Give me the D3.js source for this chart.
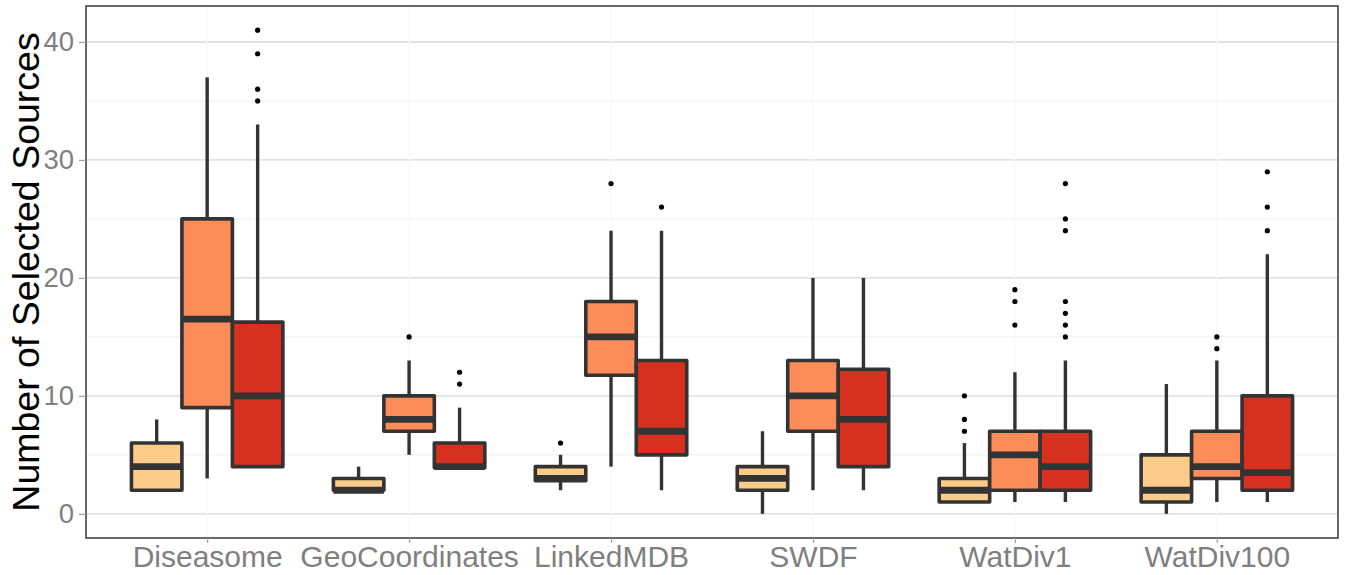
<!DOCTYPE html>
<html><head><meta charset="utf-8">
<script src="https://cdn.jsdelivr.net/npm/d3@7"></script>
<style>body{margin:0;background:#fff}svg{display:block}</style>
</head><body><div id="chart"></div>
<script>
// ---- data ----
const categories = ["Diseasome","GeoCoordinates","LinkedMDB","SWDF","WatDiv1","WatDiv100"];
const series = ["Series 1","Series 2","Series 3"];
const seriesColors = ["#FDCC8A","#FC8D59","#D7301F"];
// rows = categories, columns = series
const whiskerLow  = [[2,3,4],[2,5,4],[2,4,2],[0,2,2],[1,1,1],[0,1,1]];
const q1Values    = [[2,9,4],[2,7,3.9],[2.8,11.75,5],[2,7,4],[1,2,2],[1,3,2]];
const medians     = [[4,16.5,10],[2,8,4],[3,15,7],[3,10,8],[2,5,4],[2,4,3.5]];
const q3Values    = [[6,25,16.25],[3,10,6],[4,18,13],[4,13,12.25],[3,7,7],[5,7,10]];
const whiskerHigh = [[8,37,33],[4,13,9],[5,24,24],[7,20,20],[6,12,13],[11,13,22]];
const outliers    = [
  [[],[],[35,36,39,41]],
  [[],[15],[11,12]],
  [[6],[28],[26]],
  [[],[],[]],
  [[7,8,10],[16,18,19],[15,16,17,18,24,25,28]],
  [[],[14,15],[24,26,29]]
];
const yTicks = [0,10,20,30,40];
const yMinor = [5,15,25,35];
const yTitle = "Number of Selected Sources";

// ---- layout ----
const W = 1346, H = 575;
const panel = {left:86, right:1338, top:6, bottom:538};
const FONT = "'Liberation Sans',Arial,Helvetica,sans-serif";

const svg = d3.select("#chart").append("svg").attr("width",W).attr("height",H);

// ggplot discrete expansion 0.6 units each side
const unit = (panel.right - panel.left) / (categories.length - 1 + 1.2);
const xPos = d3.scalePoint().domain(categories)
  .range([panel.left + 0.6*unit, panel.right - 0.6*unit]);
const xs = d3.scaleBand().domain(series).range([-0.375*unit, 0.375*unit]);

const y = d3.scaleLinear().domain([-2.05, 43.05]).range([panel.bottom, panel.top]);

// grid
const g = svg.append("g");
g.selectAll(".minor").data(yMinor).join("line")
  .attr("x1",panel.left).attr("x2",panel.right)
  .attr("y1",d=>y(d)).attr("y2",d=>y(d))
  .attr("stroke","#eeeeee").attr("stroke-width",1);
g.selectAll(".major").data(yTicks).join("line")
  .attr("x1",panel.left).attr("x2",panel.right)
  .attr("y1",d=>y(d)).attr("y2",d=>y(d))
  .attr("stroke","#d8d8d8").attr("stroke-width",1.3);
g.selectAll(".vmajor").data(categories).join("line")
  .attr("x1",d=>xPos(d)).attr("x2",d=>xPos(d))
  .attr("y1",panel.top).attr("y2",panel.bottom)
  .attr("stroke","#f8f8f8").attr("stroke-width",1.3);

// boxes
const boxData = [];
categories.forEach((c,i)=>series.forEach((s,j)=>{
  boxData.push({c,s,j,lo:whiskerLow[i][j],q1:q1Values[i][j],med:medians[i][j],
    q3:q3Values[i][j],hi:whiskerHigh[i][j],out:outliers[i][j]});
}));
const bw = xs.bandwidth();
const bg = svg.append("g").selectAll("g").data(boxData).join("g")
  .attr("transform",d=>`translate(${xPos(d.c)+xs(d.s)},0)`);
bg.append("line").attr("x1",bw/2).attr("x2",bw/2)
  .attr("y1",d=>y(d.hi)).attr("y2",d=>y(d.q3))
  .attr("stroke","#333").attr("stroke-width",3.4);
bg.append("line").attr("x1",bw/2).attr("x2",bw/2)
  .attr("y1",d=>y(d.q1)).attr("y2",d=>y(d.lo))
  .attr("stroke","#333").attr("stroke-width",3.4);
bg.append("rect").attr("x",0).attr("width",bw)
  .attr("y",d=>y(d.q3)).attr("height",d=>y(d.q1)-y(d.q3))
  .attr("fill",d=>seriesColors[d.j]).attr("stroke","#333")
  .attr("stroke-width",3.6).attr("stroke-linejoin","round");
bg.append("line").attr("x1",0).attr("x2",bw)
  .attr("y1",d=>y(d.med)).attr("y2",d=>y(d.med))
  .attr("stroke","#333").attr("stroke-width",6.8);
bg.selectAll("circle").data(d=>d.out).join("circle")
  .attr("cx",bw/2).attr("cy",d=>y(d)).attr("r",2.6).attr("fill","#000");

// panel border
svg.append("rect").attr("x",panel.left).attr("y",panel.top)
  .attr("width",panel.right-panel.left).attr("height",panel.bottom-panel.top)
  .attr("fill","none").attr("stroke","#1a1a1a").attr("stroke-width",1.3);

// axes
const yAxis = d3.axisLeft(y).tickValues(yTicks).tickSize(7).tickPadding(5);
const ya = svg.append("g").attr("transform",`translate(${panel.left},0)`).call(yAxis);
ya.select(".domain").remove();
ya.selectAll(".tick line").attr("stroke","#a0a0a0").attr("stroke-width",1.2);
ya.selectAll("text").attr("fill","#7f7f7f").style("font-family",FONT).style("font-size","27.5px");

const xAxis = d3.axisBottom(xPos).tickSize(5).tickPadding(3);
const xa = svg.append("g").attr("transform",`translate(0,${panel.bottom})`).call(xAxis);
xa.select(".domain").remove();
xa.selectAll(".tick line").attr("stroke","#a0a0a0").attr("stroke-width",1.2);
xa.selectAll("text").attr("fill","#7f7f7f").style("font-family",FONT).style("font-size","30px");

svg.append("text").attr("transform",`translate(39,${(panel.top+panel.bottom)/2}) rotate(-90)`)
  .attr("text-anchor","middle").attr("fill","#000")
  .style("font-family",FONT).style("font-size","37.5px")
  .text(yTitle);
</script></body></html>
